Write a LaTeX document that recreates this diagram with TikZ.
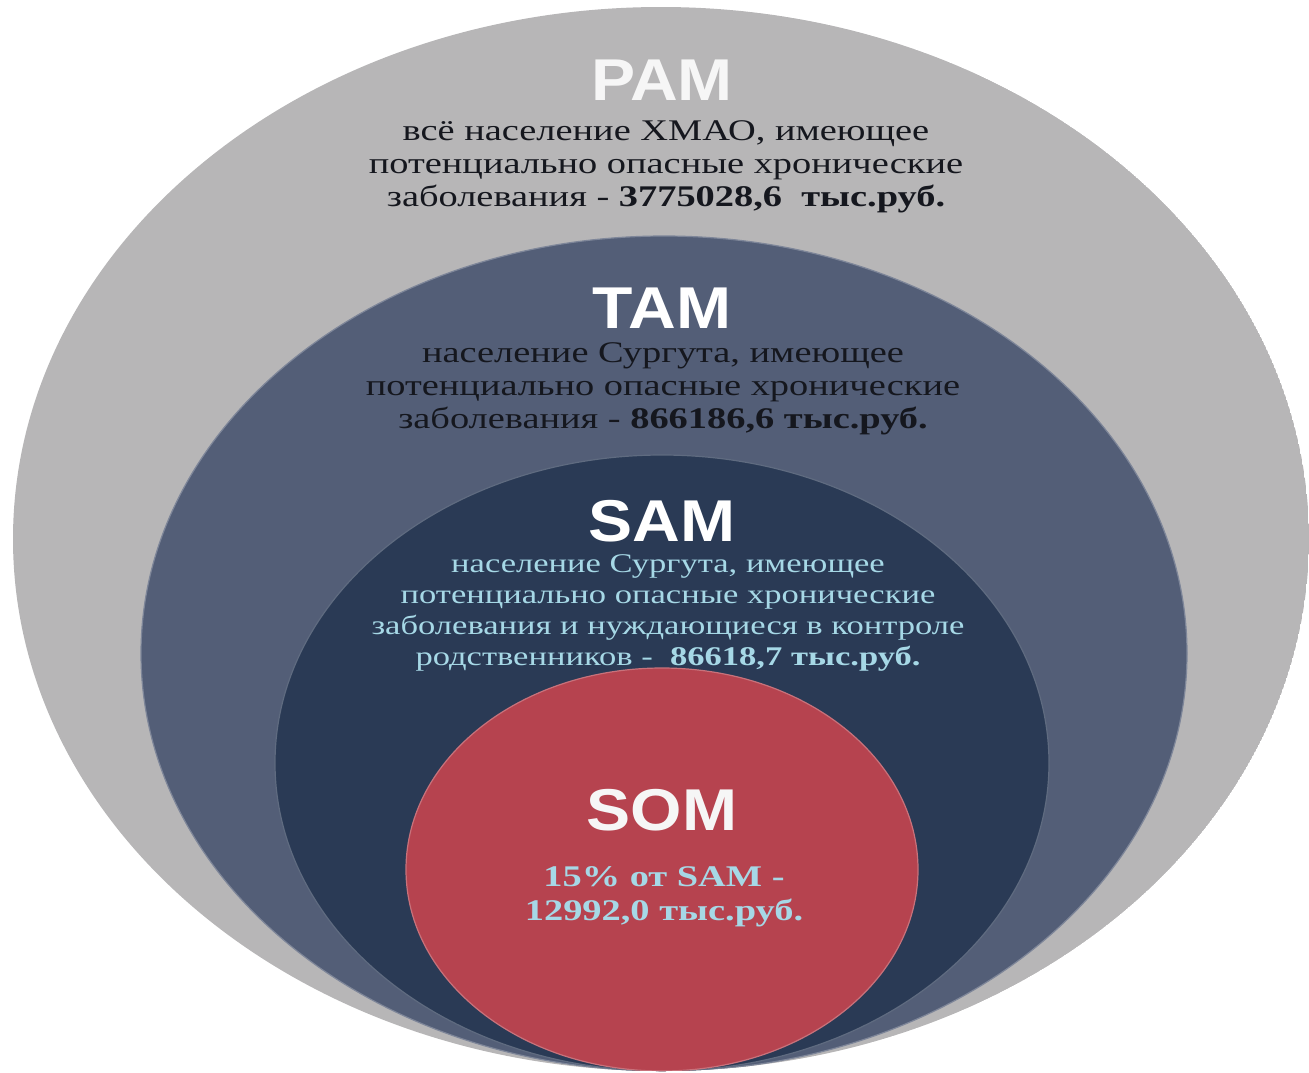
\documentclass[tikz,border=0pt]{standalone}
\usepackage{fontspec}
\setmainfont{Liberation Serif}
\newfontfamily\tagfont{Liberation Sans}[FakeStretch=1.12]
\newfontfamily\notefont{Liberation Serif}[FakeStretch=1.28]
\usetikzlibrary{positioning}
\definecolor{pamgrey}{HTML}{B7B6B7}
\definecolor{tamblue}{HTML}{535E77}
\definecolor{samnavy}{HTML}{2A3A55}
\definecolor{somred}{HTML}{B6434F}
\definecolor{inkdark}{HTML}{15171E}
\definecolor{skyblue}{HTML}{A6D8E6}
\definecolor{offwhite}{HTML}{F6F6F6}

\begin{document}
\begin{tikzpicture}[x=1pt,y=-1pt,
  ring/.style={draw=#1!75!white, line width=1.2pt, fill=#1},
  tag/.style={font=\tagfont\bfseries\fontsize{59}{59}\selectfont, text=offwhite, anchor=base, inner sep=0pt},
  note/.style={font=\notefont\fontsize{30}{33}\selectfont, align=center, anchor=base, inner sep=0pt}]

\useasboundingbox (0,0) rectangle (1309,1072);

% nested markets, all resting on the same bottom
\begin{scope}
  \clip (661,539) ellipse [x radius=648, y radius=532];
  \fill[pamgrey] (661,539) ellipse [x radius=648, y radius=532];
  \draw[ring=tamblue] (664,653.5) ellipse [x radius=523, y radius=417.5];
  \draw[ring=samnavy] (662,763) ellipse [x radius=387, y radius=308];
  \draw[ring=somred] (662,869.5) ellipse [x radius=256, y radius=201.5];
\end{scope}

% PAM (base = last line)
\node[tag] (pam) at (662,100) {PAM};
\node[note, text=inkdark] (pamnote) at (666,206) {всё население ХМАО, имеющее\\
  потенциально опасные хронические\\
  заболевания - \textbf{3775028,6~ тыс.руб.}};

% TAM
\node[tag, text=white] (tam) at (662,328) {TAM};
\node[note, text=inkdark] (tamnote) at (663,428) {население Сургута, имеющее\\
  потенциально опасные хронические\\
  заболевания - \textbf{866186,6 тыс.руб.}};

% SAM
\node[tag, text=white] (sam) at (662,541) {SAM};
\node[note, text=skyblue, font=\notefont\fontsize{27}{31}\selectfont] (samnote) at (668,665) {население Сургута, имеющее\\
  потенциально опасные хронические\\
  заболевания и нуждающиеся в контроле\\
  родственников -~ \textbf{86618,7 тыс.руб.}};

% SOM
\node[tag] (som) at (662,830) {SOM};
\node[note, text=skyblue, font=\notefont\bfseries\fontsize{30}{34}\selectfont] (somnote) at (664,920) {15\% от SAM -\\
  12992,0 тыс.руб.};
\end{tikzpicture}
\end{document}
